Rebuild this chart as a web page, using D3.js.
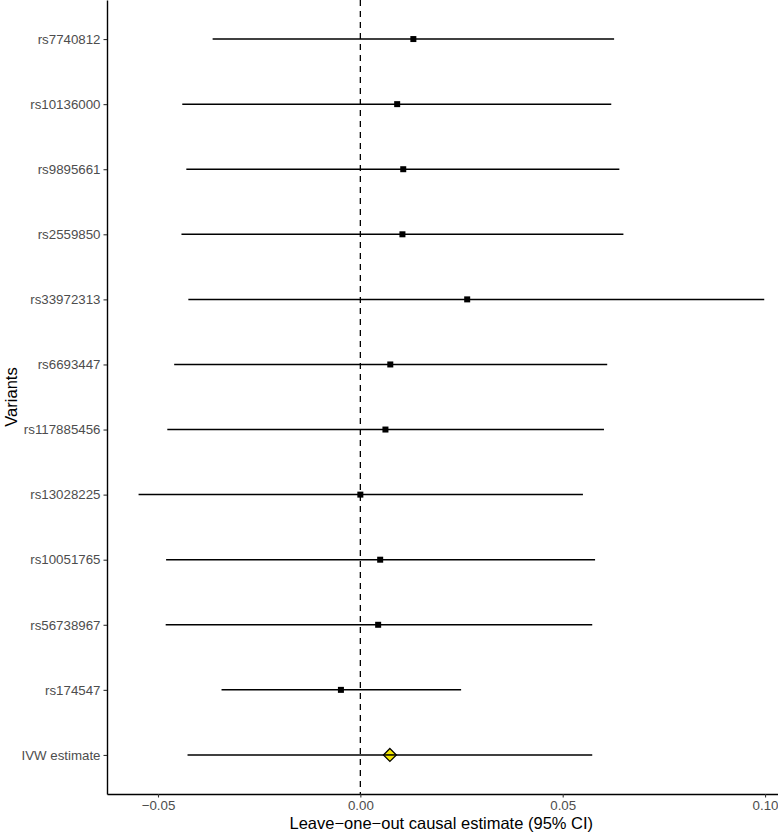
<!DOCTYPE html>
<html>
<head>
<meta charset="UTF-8">
<script src="https://d3js.org/d3.v7.min.js"></script>
<style>
  body { margin: 0; background: #fff; }
  svg text { font-family: "Liberation Sans", Arial, Helvetica, sans-serif; }
</style>
</head>
<body>
<div id="chart"></div>
<script>
// variants from top to bottom
const variants = ["rs7740812", "rs10136000", "rs9895661", "rs2559850", "rs33972313", "rs6693447",
  "rs117885456", "rs13028225", "rs10051765", "rs56738967", "rs174547", "IVW estimate"];
const estimates = [0.0131, 0.0091, 0.0106, 0.0104, 0.0264, 0.0074, 0.0062, 0.0000, 0.0049, 0.0044, -0.0048, 0.0073];
const lowerCI = [-0.0365, -0.0440, -0.0430, -0.0442, -0.0425, -0.0460, -0.0477, -0.0548, -0.0480, -0.0481, -0.0343, -0.0427];
const upperCI = [0.0627, 0.0620, 0.0640, 0.0650, 0.0998, 0.0610, 0.0602, 0.0550, 0.0580, 0.0573, 0.0249, 0.0573];
const xTicks = [-0.05, 0.00, 0.05, 0.10];

const W = 778, H = 834;
const margin = {top: 0, right: 0, bottom: 40, left: 107};
const width = W - margin.left - margin.right;
const height = H - margin.top - margin.bottom;

const rows = variants.map((v, i) => ({name: v, est: estimates[i], lo: lowerCI[i], hi: upperCI[i]}));

const svg = d3.select("#chart").append("svg")
  .attr("width", W).attr("height", H);
const g = svg.append("g").attr("transform", "translate(" + margin.left + "," + margin.top + ")");

const x = d3.scaleLinear().domain([-0.0626, 0.1032]).range([0, width]);
// ggplot style discrete expansion (0.6 on each side)
const y = d3.scalePoint().domain(variants).range([0, height]).padding(0.6);

// reference line at zero
g.append("line")
  .attr("x1", x(0)).attr("x2", x(0))
  .attr("y1", 0).attr("y2", height)
  .attr("stroke", "#000").attr("stroke-width", 1.3)
  .attr("stroke-dasharray", "6,5");

// confidence intervals
g.selectAll(".ci").data(rows).enter().append("line")
  .attr("class", "ci")
  .attr("x1", d => x(d.lo)).attr("x2", d => x(d.hi))
  .attr("y1", d => y(d.name)).attr("y2", d => y(d.name))
  .attr("stroke", "#000").attr("stroke-width", 1.5);

// point estimates
const sq = 6;
g.selectAll(".pt").data(rows.filter(d => d.name !== "IVW estimate")).enter().append("rect")
  .attr("class", "pt")
  .attr("x", d => x(d.est) - sq / 2).attr("y", d => y(d.name) - sq / 2)
  .attr("width", sq).attr("height", sq)
  .attr("fill", "#000");

const ivw = rows.filter(d => d.name === "IVW estimate");
g.selectAll(".ivw").data(ivw).enter().append("path")
  .attr("class", "ivw")
  .attr("transform", d => "translate(" + x(d.est) + "," + y(d.name) + ")")
  .attr("d", "M0,-6.5L6.5,0L0,6.5L-6.5,0Z")
  .attr("fill", "#f2e600").attr("stroke", "#000").attr("stroke-width", 1.2);
g.selectAll(".ivwline").data(ivw).enter().append("line")
  .attr("x1", d => x(d.est) - 6.5).attr("x2", d => x(d.est) + 6.5)
  .attr("y1", d => y(d.name)).attr("y2", d => y(d.name))
  .attr("stroke", "#000").attr("stroke-width", 1.5);

// axes
const xAxis = g.append("g")
  .attr("transform", "translate(0," + height + ")")
  .call(d3.axisBottom(x).tickValues(xTicks).tickFormat(d3.format(".2f"))
    .tickSizeInner(3.5).tickSizeOuter(0).tickPadding(3));
const yAxis = g.append("g")
  .call(d3.axisLeft(y).tickSizeInner(3.5).tickSizeOuter(0).tickPadding(3));

[xAxis, yAxis].forEach(a => {
  a.select(".domain").attr("stroke", "#000").attr("stroke-width", 1.4);
  a.selectAll(".tick line").attr("stroke", "#333").attr("stroke-width", 1.1);
  a.selectAll(".tick text").attr("fill", "#4d4d4d").style("font-size", "13.3px");
});
xAxis.selectAll(".tick text").text(d => d3.format(".2f")(d).replace("-", "\u2212"));

// axis titles
svg.append("text")
  .attr("x", margin.left + x(0.02)).attr("y", H - 5)
  .attr("text-anchor", "middle")
  .style("font-size", "16.5px").attr("fill", "#000")
  .text("Leave\u2212one\u2212out causal estimate (95% CI)");

svg.append("text")
  .attr("transform", "translate(17," + (margin.top + height / 2) + ") rotate(-90)")
  .attr("text-anchor", "middle")
  .style("font-size", "16.5px").attr("fill", "#000")
  .text("Variants");
</script>
</body>
</html>
